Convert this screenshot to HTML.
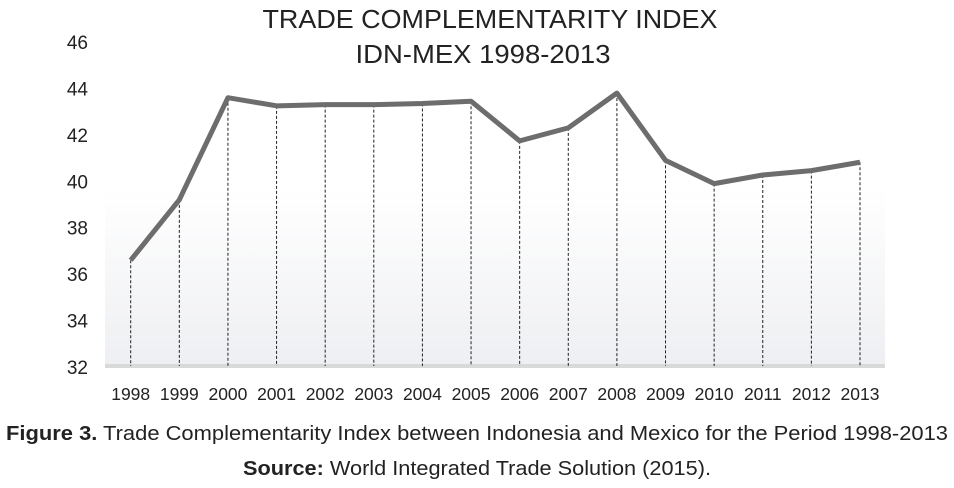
<!DOCTYPE html>
<html><head><meta charset="utf-8"><style>
html,body{margin:0;padding:0;background:#fff}
svg{display:block;font-family:"Liberation Sans",sans-serif}
</style></head><body>
<svg id="chart" width="954" height="488" viewBox="0 0 954 488" xmlns="http://www.w3.org/2000/svg">
<defs>
<linearGradient id="bg" x1="0" y1="0" x2="0" y2="1">
<stop offset="0" stop-color="#ffffff"/>
<stop offset="1" stop-color="#eeeff2"/>
</linearGradient>
</defs>
<rect x="105" y="188" width="780" height="178" fill="url(#bg)"/>
<rect x="105" y="364" width="780" height="4" fill="#d9d9d9"/>
<text x="490" y="28" text-anchor="middle" font-size="26" fill="#222" textLength="455" lengthAdjust="spacingAndGlyphs">TRADE COMPLEMENTARITY INDEX</text>
<text x="483" y="63" text-anchor="middle" font-size="26" fill="#222" textLength="255" lengthAdjust="spacingAndGlyphs">IDN-MEX 1998-2013</text>
<g id="yaxis"></g>
<g id="xaxis"></g>
<g id="drops"></g>
<g id="series"></g>
<text x="477" y="440" text-anchor="middle" font-size="20" fill="#222" textLength="942" lengthAdjust="spacingAndGlyphs"><tspan font-weight="bold">Figure 3.</tspan> Trade Complementarity Index between Indonesia and Mexico for the Period 1998-2013</text>
<text x="477" y="475" text-anchor="middle" font-size="20" fill="#222" textLength="468" lengthAdjust="spacingAndGlyphs"><tspan font-weight="bold">Source:</tspan> World Integrated Trade Solution (2015).</text>
</svg>
<script>
const categories = ["1998","1999","2000","2001","2002","2003","2004","2005","2006","2007","2008","2009","2010","2011","2012","2013"];
const values = [36.6,39.2,43.6,43.25,43.3,43.3,43.35,43.45,41.74,42.3,43.8,40.9,39.9,40.27,40.46,40.82];
const yTicks = [32,34,36,38,40,42,44,46];

const NS = "http://www.w3.org/2000/svg";
const yMin = 32, yMax = 46, yBottom = 367, yTop = 42;
const xFirst = 130.7, xLast = 860;
function yScale(v){ return yBottom - (v - yMin) / (yMax - yMin) * (yBottom - yTop); }
function xScale(i){ return xFirst + i * (xLast - xFirst) / (categories.length - 1); }
function mk(tag, attrs){ const e = document.createElementNS(NS, tag); for (const k in attrs) e.setAttribute(k, attrs[k]); return e; }

const ya = document.getElementById('yaxis');
yTicks.forEach(t => {
  const el = mk('text', {x: 88, y: yScale(t) + 7, 'text-anchor': 'end', 'font-size': 19, fill: '#222'});
  
  
  el.textContent = t;
  ya.appendChild(el);
});

const xa = document.getElementById('xaxis');
const dr = document.getElementById('drops');
categories.forEach((c, i) => {
  const el = mk('text', {x: xScale(i), y: 400, 'text-anchor': 'middle', 'font-size': 17.5, fill: '#222'});
  
  
  el.textContent = c;
  xa.appendChild(el);
  const ln = mk('line', {x1: xScale(i), x2: xScale(i), y1: yScale(values[i]), y2: yBottom - 1, stroke: '#222', 'stroke-width': 1, 'stroke-dasharray': '3,2'});
  
  
  dr.appendChild(ln);
});

const pts = values.map((v, i) => xScale(i) + ',' + yScale(v)).join(' ');
const pl = mk('polyline', {points: pts, fill: 'none', stroke: '#6d6d6d', 'stroke-width': 5, 'stroke-linejoin': 'round'});


document.getElementById('series').appendChild(pl);
</script>
</body></html>
